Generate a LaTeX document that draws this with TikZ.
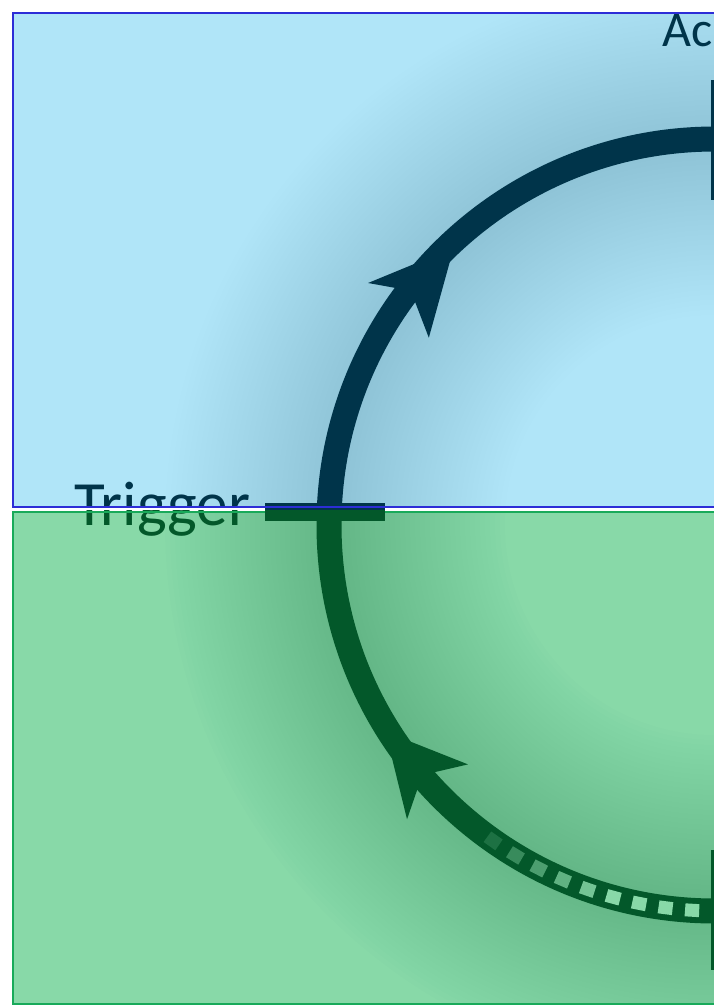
\documentclass[tikz,border=0pt]{standalone}
\usepackage{fontspec}
\setmainfont{Carlito}
\definecolor{navy}{RGB}{0,52,74}
\definecolor{dgreen}{RGB}{3,88,42}
\definecolor{topfill}{RGB}{176,229,248}
\definecolor{botfill}{RGB}{136,217,168}
\definecolor{blueline}{RGB}{45,45,215}
\definecolor{greenline}{RGB}{25,170,90}
\definecolor{glowblue}{RGB}{20,100,140}
\begin{document}
\begin{tikzpicture}[x=1pt,y=-1pt,
  bigtext/.style={anchor=base west, inner sep=0pt, font=\fontsize{63}{63}\selectfont},
  ring/.style={line width=25pt}]
\useasboundingbox (0,0) rectangle (713,1005);
\coordinate (C) at (715,525);
% panels
\fill[topfill] (12.5,12.5) rectangle (740,506.5);
\fill[botfill] (12.5,511.5) rectangle (740,1003.5);
% soft glow around the ring
\begin{scope}
  \clip (12.5,12.5) rectangle (740,506.5);
  \foreach \w in {340,330,...,20} \draw[glowblue, opacity=0.0055, line width=\w pt] (C) circle[radius=380];
\end{scope}
\begin{scope}
  \clip (12.5,511.5) rectangle (740,1003.5);
  \foreach \w in {340,330,...,20} \draw[dgreen, opacity=0.0065, line width=\w pt] (C) circle[radius=380];
\end{scope}
% Trigger label (two-tone)
\begin{scope}
  \clip (0,0) rectangle (713,508.5);
  \node[bigtext, text=navy] (trigtop) at (74,525) {Trigger};
\end{scope}
\begin{scope}
  \clip (0,508.5) rectangle (713,1005);
  \node[bigtext, text=dgreen] (trigbot) at (74,525) {Trigger};
\end{scope}
% Top label
\node[anchor=base west, inner sep=0pt, font=\fontsize{50}{50}\selectfont, text=navy] (act) at (662,46) {Ac};
% gap and borders
\fill[white] (0,507.6) rectangle (713,510.4);
\draw[blueline, line width=2pt] (740,506.5) -- (12.5,506.5) -- (12.5,12.5) -- (740,12.5);
\draw[greenline, line width=2pt] (740,511.5) -- (12.5,511.5) -- (12.5,1003.5) -- (740,1003.5);
% ring halves
\begin{scope}
  \clip (0,0) rectangle (740,509);
  \draw[navy, ring] (C) circle[radius=386];
\end{scope}
\begin{scope}
  \clip (0,509) rectangle (740,1005);
  \draw[dgreen, ring] (C) circle[radius=386];
\end{scope}
% arrowheads
\begin{scope}[shift={(C)}]
  \fill[navy] (226.7:381) -- (214.9:423) -- (217.6:384) -- (213.2:342) -- cycle;
  \fill[dgreen] (147.9:389) -- (136.3:426) -- (139.5:385) -- (135.9:344) -- cycle;
  % dashed light squares on the lower arc, fading out
  \foreach \k/\op in {-1/1,0/1,1/1,2/1,3/1,4/0.85,5/0.7,6/0.55,7/0.4,8/0.2} {
    \pgfmathsetmacro{\a}{93.4+3.96*\k}
    \pgfmathsetmacro{\aa}{\a-1.05}
    \pgfmathsetmacro{\ab}{\a+1.05}
    \fill[botfill, opacity=\op] (\aa:379.5) -- (\ab:379.5) -- (\ab:392.5) -- (\aa:392.5) -- cycle;
  }
\end{scope}
% ticks
\fill[navy] (265,503) rectangle (385,509.5);
\fill[dgreen] (265,509.5) rectangle (385,521);
\draw[blueline, line width=2pt] (265,506.5) -- (385,506.5);
\fill[navy] (711,80) rectangle (729,200);
\fill[dgreen] (711,850) rectangle (729,970);
\end{tikzpicture}
\end{document}
